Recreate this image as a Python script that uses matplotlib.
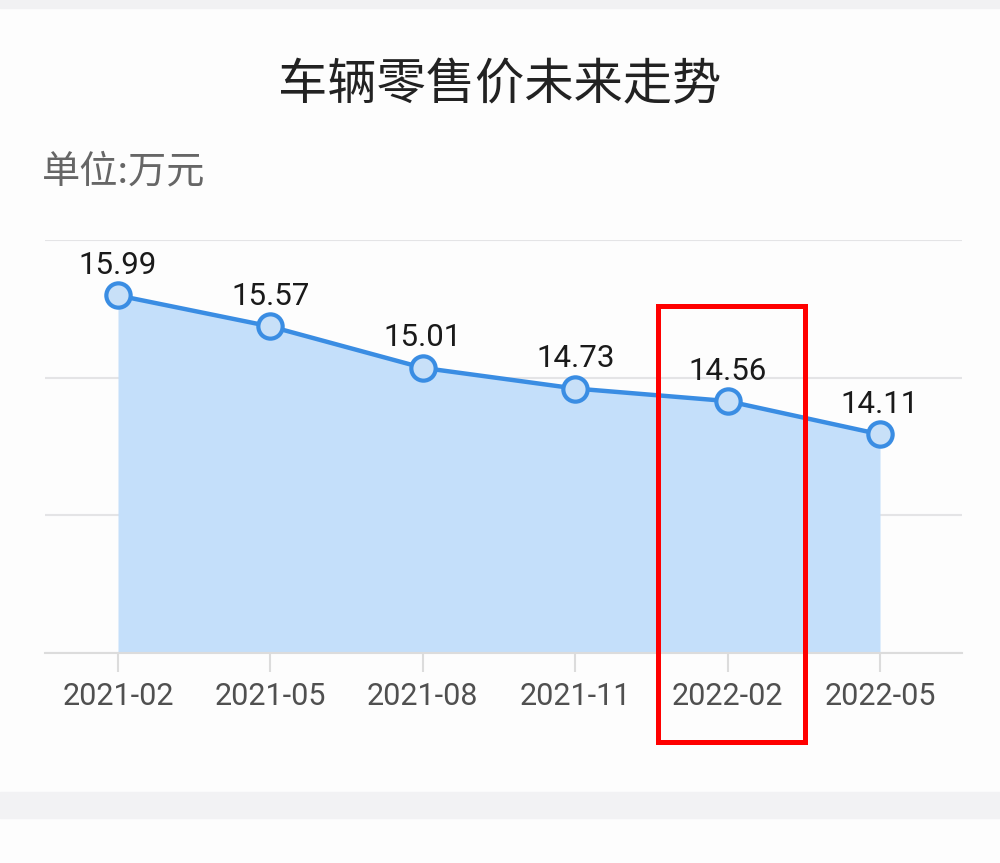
import matplotlib.pyplot as plt
import matplotlib.transforms as mtransforms
from matplotlib.patches import Rectangle
import numpy as np

# data
months = ["2021-02", "2021-05", "2021-08", "2021-11", "2022-02", "2022-05"]
prices = [15.99, 15.57, 15.01, 14.73, 14.56, 14.11]
highlight = "2022-02"

plt.rcParams['font.family'] = ['Roboto', 'Noto Sans CJK SC', 'DejaVu Sans']

fig = plt.figure(figsize=(10, 8.63), dpi=100, facecolor='#fdfdfd')

# grey bands of the phone screenshot
fig.patches.append(Rectangle((0, 1 - 8 / 863), 1, 8 / 863, transform=fig.transFigure,
                             color='#f1f1f3', zorder=0))
fig.patches.append(Rectangle((0, 45 / 863), 1, 26 / 863, transform=fig.transFigure,
                             color='#f2f2f4', zorder=0))

ax = fig.add_axes([0.045, 0.2433, 0.917, 0.4786])
ax.set_facecolor('none')

x = np.arange(len(months))
ymin, ymax = 11.15, 16.74
ax.set_xlim(-0.479, len(months) - 1 + 0.538)
ax.set_ylim(ymin, ymax)

ax.fill_between(x, prices, ymin, color='#c4dffa', zorder=2, lw=0)
ax.plot(x, prices, color='#3a8de3', lw=3.2, marker='o', ms=17.5,
        mfc='#c8e0f8', mec='#3a8de3', mew=3.0, zorder=4, clip_on=False)

for xi, v in zip(x, prices):
    ax.annotate(f"{v:.2f}", (xi, v), xytext=(0, 15.5), textcoords='offset points',
                ha='center', va='baseline', fontsize=22.5, color='#1a1a1a', zorder=5)

ax.set_yticks(np.linspace(ymin, ymax, 4))
ax.set_yticklabels([])
ax.tick_params(axis='y', length=0)
ax.grid(axis='y', color='#e4e4e6', lw=1.5, zorder=1)
ax.set_xticks(x)
ax.set_xticklabels(months, fontsize=22, color='#505050')
ax.tick_params(axis='x', length=14, width=1.5, color='#dcdcdc', pad=7)
for s in ['top', 'right', 'left']:
    ax.spines[s].set_visible(False)
ax.spines['bottom'].set_color('#dcdcdc')
ax.spines['bottom'].set_linewidth(1.5)

# red highlight box around 2022-02
hi = months.index(highlight)
trans = mtransforms.blended_transform_factory(ax.transData, fig.transFigure)
box = Rectangle((hi - 0.455, 121 / 863), 0.96, 436 / 863, transform=trans,
                fill=False, edgecolor='#ff0000', lw=3.6, zorder=6, clip_on=False)
fig.patches.append(box)

fig.text(0.5, 1 - 85 / 863, "车辆零售价未来走势", ha='center', va='center',
         fontsize=35.5, color='#222222', family=['Noto Sans CJK SC', 'DejaVu Sans'])
fig.text(0.042, 1 - 172 / 863, "单位:万元", ha='left', va='center',
         fontsize=27.5, color='#666666', family=['Noto Sans CJK SC', 'DejaVu Sans'])

fig.savefig('out.png', dpi=100, facecolor=fig.get_facecolor())
